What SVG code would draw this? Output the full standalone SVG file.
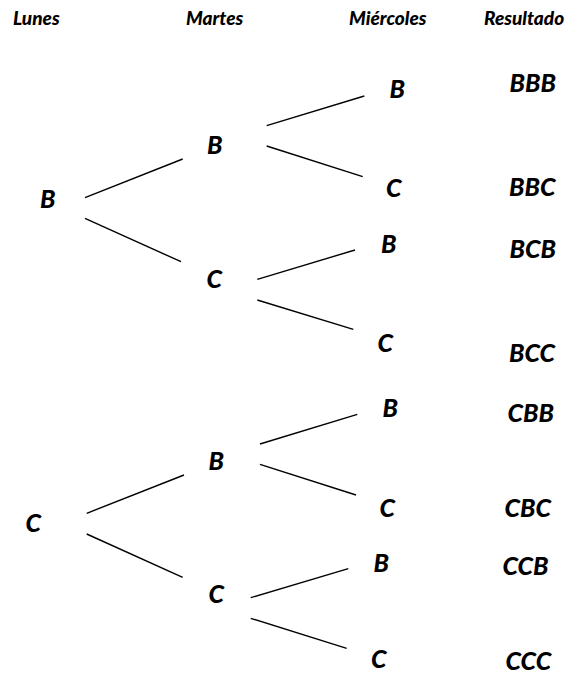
<svg xmlns="http://www.w3.org/2000/svg" width="573" height="675" viewBox="0 0 573 675">
<style>
text{font-family:Lato,"Open Sans","Liberation Sans",sans-serif;font-weight:900;font-style:italic;fill:#000}
.h{font-size:19px}
.n{font-size:25px}
#connectors line{stroke:#000;stroke-width:1.4;fill:none}
</style>
<rect width="573" height="675" fill="#fff"/>
<g id="headers">
<text class="h" x="13" y="25.3">Lunes</text>
<text class="h" x="186" y="25.3">Martes</text>
<text class="h" x="349" y="25.3">Miércoles</text>
<text class="h" x="484" y="25.3">Resultado</text>
</g>
<g id="connectors">
<line x1="85" y1="197.7" x2="182.7" y2="159"/>
<line x1="85" y1="218.3" x2="181" y2="261.7"/>
<line x1="266.7" y1="125.7" x2="364.3" y2="96"/>
<line x1="266.7" y1="146" x2="362.7" y2="176.7"/>
<line x1="257.3" y1="279.3" x2="355" y2="250"/>
<line x1="257.3" y1="300" x2="353.3" y2="329.3"/>
<line x1="86.7" y1="513.3" x2="184" y2="475"/>
<line x1="86.7" y1="534" x2="182.7" y2="577.3"/>
<line x1="260" y1="444" x2="357.3" y2="414.3"/>
<line x1="260" y1="464.3" x2="356" y2="495"/>
<line x1="250.7" y1="597.7" x2="348.3" y2="568.7"/>
<line x1="250.7" y1="618.3" x2="346.7" y2="648.3"/>
</g>
<g id="n-B"><text class="n" x="40" y="207.5">B</text></g>
<g id="n-C"><text class="n" x="25.5" y="531.5">C</text></g>
<g id="n-BB"><text class="n" x="207" y="154.3">B</text></g>
<g id="n-BC"><text class="n" x="206.5" y="287.5">C</text></g>
<g id="n-CB"><text class="n" x="208.5" y="470">B</text></g>
<g id="n-CC"><text class="n" x="208.5" y="603">C</text></g>
<g id="n-BBB"><text class="n" x="389.5" y="98.3">B</text></g>
<g id="n-BBC"><text class="n" x="386" y="197.3">C</text></g>
<g id="n-BCB"><text class="n" x="381" y="253.3">B</text></g>
<g id="n-BCC"><text class="n" x="377.5" y="351.7">C</text></g>
<g id="n-CBB"><text class="n" x="382.5" y="417">B</text></g>
<g id="n-CBC"><text class="n" x="379.5" y="516.7">C</text></g>
<g id="n-CCB"><text class="n" x="373.5" y="572.3">B</text></g>
<g id="n-CCC"><text class="n" x="371" y="667.5">C</text></g>
<g id="results">
<text class="n" x="509.5" y="92.3">BBB</text>
<text class="n" x="509" y="196">BBC</text>
<text class="n" x="509.5" y="258">BCB</text>
<text class="n" x="509" y="362">BCC</text>
<text class="n" x="507.5" y="422">CBB</text>
<text class="n" x="504.5" y="516.7">CBC</text>
<text class="n" x="502.5" y="575">CCB</text>
<text class="n" x="505.5" y="670">CCC</text>
</g>
</svg>
